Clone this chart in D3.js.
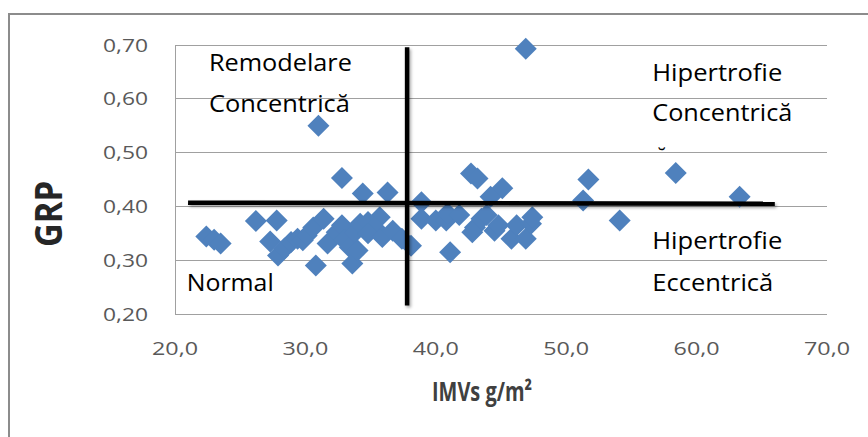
<!DOCTYPE html>
<html>
<head>
<meta charset="utf-8">
<script src="https://cdn.jsdelivr.net/npm/d3@7"></script>
<style>
  html, body { margin: 0; padding: 0; background: #fff; }
  svg { display: block; }
  text { font-family: "Open Sans", "Liberation Sans", sans-serif; }
</style>
</head>
<body>
<svg id="chart" width="868" height="437"></svg>
<script>
// ---- data ----
const imv = [22.4, 23.0, 23.5, 26.2, 27.8, 27.3, 27.9, 28.4, 28.9, 29.4,
             29.8, 30.1, 30.6, 31.4, 30.8, 31.0, 31.7, 32.4, 32.8, 32.8,
             33.0, 33.4, 33.8, 33.6, 34.4, 36.3, 34.2, 34.8, 35.7, 35.3,
             34.8, 35.9, 36.7, 37.4, 38.1, 34.0, 38.9, 38.9, 40.0, 40.8,
             40.9, 41.1, 41.8, 42.7, 43.2, 45.1, 44.2, 43.0, 42.8, 43.5,
             43.9, 44.5, 44.8, 45.8, 46.2, 46.9, 47.3, 47.4, 46.9, 51.3,
             51.7, 54.1, 58.4, 63.3];
const grp = [0.343, 0.337, 0.330, 0.372, 0.373, 0.334, 0.308, 0.321, 0.333, 0.339,
             0.336, 0.345, 0.360, 0.376, 0.289, 0.549, 0.330, 0.351, 0.364, 0.452,
             0.336, 0.323, 0.351, 0.293, 0.423, 0.425, 0.367, 0.370, 0.379, 0.360,
             0.349, 0.342, 0.354, 0.339, 0.326, 0.317, 0.407, 0.376, 0.373, 0.373,
             0.386, 0.314, 0.383, 0.460, 0.451, 0.433, 0.417, 0.360, 0.351, 0.376,
             0.383, 0.354, 0.364, 0.339, 0.364, 0.339, 0.367, 0.379, 0.692, 0.410,
             0.449, 0.373, 0.461, 0.417];
const xTicks = [20, 30, 40, 50, 60, 70];
const yTicks = [0.2, 0.3, 0.4, 0.5, 0.6, 0.7];
const xTitle = "IMVs g/m²";
const yTitle = "GRP";
// quadrant divider lines (data units)
const vLine = {x: 37.8, y1: 0.695, y2: 0.215};
const hLine = {x1: 21.0, x2: 66.0, y1: 0.406, y2: 0.404};
const quadrantLabels = [
  {text: "Remodelare", x: 22.6, y: 0.651, w: 143},
  {text: "Concentrică", x: 22.6, y: 0.575, w: 141},
  {text: "Hipertrofie", x: 56.6, y: 0.632, w: 130},
  {text: "Concentrică", x: 56.6, y: 0.558, w: 140},
  {text: "Hipertrofie", x: 56.6, y: 0.320, w: 130},
  {text: "Eccentrică", x: 56.6, y: 0.241, w: 121},
  {text: "Normal", x: 20.9, y: 0.242, w: 87}
];

// ---- drawing ----
const svg = d3.select("#chart");
const x = d3.scaleLinear().domain([20, 70]).range([175, 827]);
const y = d3.scaleLinear().domain([0.2, 0.7]).range([313.5, 44.5]);
const fmtX = v => d3.format(".1f")(v).replace(".", ",");
const fmtY = v => d3.format(".2f")(v).replace(".", ",");

const defs = svg.append("defs");
const f = defs.append("filter").attr("id", "sh").attr("filterUnits", "userSpaceOnUse")
  .attr("x", 0).attr("y", 0).attr("width", 868).attr("height", 437);
f.append("feDropShadow").attr("dx", 1.5).attr("dy", 2).attr("stdDeviation", 1.5)
  .attr("flood-color", "#000").attr("flood-opacity", 0.35);

// outer frame
svg.append("path").attr("d", "M9,437V14H868")
  .attr("fill", "none").attr("stroke", "#8c8c8c").attr("stroke-width", 2);

// gridlines
svg.append("g").selectAll("line").data(yTicks).join("line")
  .attr("x1", x(20)).attr("x2", x(70))
  .attr("y1", d => Math.round(y(d)) + 0.5).attr("y2", d => Math.round(y(d)) + 0.5)
  .attr("stroke", "#a0a0a0").attr("stroke-width", 1);
// y axis line
svg.append("line").attr("x1", x(20) + 0.5).attr("x2", x(20) + 0.5)
  .attr("y1", Math.round(y(0.7)) + 0.5).attr("y2", Math.round(y(0.2)) + 0.5)
  .attr("stroke", "#a0a0a0");

// y tick labels
svg.append("g").selectAll("text").data(yTicks).join("text")
  .attr("x", 148).attr("y", d => y(d) + 7)
  .attr("text-anchor", "end").attr("font-size", 19).attr("fill", "#595959")
  .attr("textLength", 45).attr("lengthAdjust", "spacingAndGlyphs")
  .text(fmtY);
// x tick labels
svg.append("g").selectAll("text").data(xTicks).join("text")
  .attr("x", d => x(d)).attr("y", 355)
  .attr("text-anchor", "middle").attr("font-size", 19).attr("fill", "#595959")
  .attr("textLength", 46).attr("lengthAdjust", "spacingAndGlyphs")
  .text(fmtX);

// axis titles
svg.append("text").attr("x", 432).attr("y", 401)
  .attr("font-size", 26).attr("font-weight", "bold").attr("fill", "#404040")
  .attr("textLength", 100).attr("lengthAdjust", "spacingAndGlyphs")
  .text(xTitle);
svg.append("text").attr("transform", "translate(62,214) rotate(-90)")
  .attr("text-anchor", "middle").attr("font-size", 38).attr("font-weight", "bold").attr("fill", "#262626")
  .attr("textLength", 66).attr("lengthAdjust", "spacingAndGlyphs")
  .text(yTitle);

// points
const pts = imv.map((v, i) => ({x: v, y: grp[i]}));
const r = 11;
svg.append("g").selectAll("path").data(pts).join("path")
  .attr("d", d => { const cx = x(d.x), cy = y(d.y);
    return `M${cx},${cy - r}L${cx + r},${cy}L${cx},${cy + r}L${cx - r},${cy}Z`; })
  .attr("fill", "#4f81bd");

// quadrant lines
const lines = svg.append("g").attr("filter", "url(#sh)");
lines.append("line").attr("x1", x(vLine.x)).attr("x2", x(vLine.x))
  .attr("y1", y(vLine.y1)).attr("y2", y(vLine.y2))
  .attr("stroke", "#000").attr("stroke-width", 4.5);
lines.append("line").attr("x1", x(hLine.x1)).attr("x2", x(hLine.x2))
  .attr("y1", y(hLine.y1)).attr("y2", y(hLine.y2))
  .attr("stroke", "#000").attr("stroke-width", 4.5);

// quadrant labels
svg.append("g").selectAll("text").data(quadrantLabels).join("text")
  .attr("x", d => x(d.x)).attr("y", d => y(d.y))
  .attr("font-size", 24).attr("fill", "#000")
  .attr("textLength", d => d.w).attr("lengthAdjust", "spacingAndGlyphs")
  .text(d => d.text);
// stray breve under "Concentrică" (as in the reference)
svg.append("text").attr("x", x(57.0)).attr("y", y(0.478))
  .attr("font-size", 22).attr("fill", "#000").text("˘");
</script>
</body>
</html>
